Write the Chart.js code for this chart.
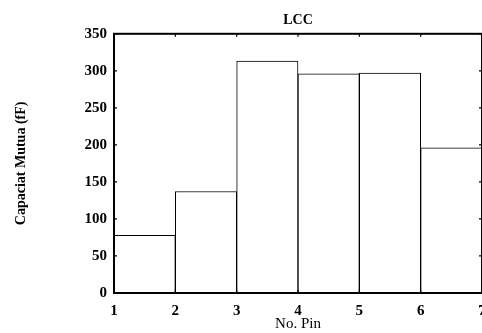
<!DOCTYPE html>
<html>
<head>
<meta charset="utf-8">
<script src="https://cdn.jsdelivr.net/npm/chart.js@4/dist/chart.umd.min.js"></script>
<style>
  html, body { margin: 0; padding: 0; background: #fff; overflow: hidden; }
  #wrap { width: 500px; height: 333px; }
</style>
</head>
<body>
<div id="wrap"><canvas id="c" width="500" height="333"></canvas></div>
<script>
// Mutual capacitance of each LCC pin interval
const pinCenters = [1.5, 2.5, 3.5, 4.5, 5.5, 6.5];
const capacitance = [78, 137, 313, 296, 297, 196];
const xTicks = [1, 2, 3, 4, 5, 6, 7];
const yTicks = [0, 50, 100, 150, 200, 250, 300, 350];

const serif = '"Liberation Serif", "DejaVu Serif", serif';
const ink = '#000';

// Plot frame with inward tick marks on all four sides
const framePlugin = {
  id: 'frame',
  afterDatasetsDraw(chart) {
    const { ctx, chartArea: a, scales } = chart;
    ctx.save();
    ctx.strokeStyle = ink;
    ctx.lineWidth = 2;
    ctx.strokeRect(a.left, a.top, a.right - a.left, a.bottom - a.top);
    ctx.lineWidth = 1.2;
    const len = 3;
    ctx.beginPath();
    scales.x.ticks.forEach(t => {
      const px = scales.x.getPixelForValue(t.value);
      ctx.moveTo(px, a.bottom); ctx.lineTo(px, a.bottom - len);
      ctx.moveTo(px, a.top); ctx.lineTo(px, a.top + len);
    });
    scales.y.ticks.forEach(t => {
      const py = scales.y.getPixelForValue(t.value);
      ctx.moveTo(a.left, py); ctx.lineTo(a.left + len, py);
      ctx.moveTo(a.right, py); ctx.lineTo(a.right - len, py);
    });
    ctx.stroke();
    ctx.restore();
  }
};

new Chart(document.getElementById('c'), {
  type: 'bar',
  data: {
    datasets: [{
      data: pinCenters.map((x, i) => ({ x, y: capacitance[i] })),
      backgroundColor: '#fff',
      borderColor: ink,
      borderWidth: 1,
      barPercentage: 1,
      categoryPercentage: 1
    }]
  },
  options: {
    responsive: false,
    animation: false,
    layout: { padding: { left: 0, right: 18, top: 0, bottom: 0 } },
    plugins: {
      legend: { display: false },
      tooltip: { enabled: false },
      title: {
        display: true,
        text: 'LCC',
        fullSize: false,
        color: ink,
        font: { family: serif, size: 14, weight: 'bold' },
        padding: { top: 12, bottom: 5 }
      }
    },
    scales: {
      x: {
        type: 'linear',
        offset: false,
        min: 1,
        max: 7,
        afterBuildTicks: s => { s.ticks = xTicks.map(v => ({ value: v })); },
        afterFit: s => { s.height = 40; },
        grid: { display: false, drawTicks: false },
        border: { display: true, color: ink, width: 2 },
        ticks: {
          color: ink,
          padding: 9,
          maxRotation: 0,
          font: { family: serif, size: 15, weight: 'bold' }
        },
        title: {
          display: true,
          text: 'No. Pin',
          color: ink,
          padding: { top: -6, bottom: 0 },
          font: { family: serif, size: 15 }
        }
      },
      y: {
        min: 0,
        max: 350,
        afterBuildTicks: s => { s.ticks = yTicks.map(v => ({ value: v })); },
        afterFit: s => { s.width = 114; },
        grid: { display: false, drawTicks: false },
        border: { display: true, color: ink, width: 2 },
        ticks: {
          color: ink,
          padding: 7,
          font: { family: serif, size: 15, weight: 'bold' }
        },
        title: {
          display: true,
          text: 'Capaciat Mutua (fF)',
          color: ink,
          padding: { top: 13, bottom: 0 },
          font: { family: serif, size: 14, weight: 'bold' }
        }
      }
    }
  },
  plugins: [framePlugin]
});
</script>
</body>
</html>
